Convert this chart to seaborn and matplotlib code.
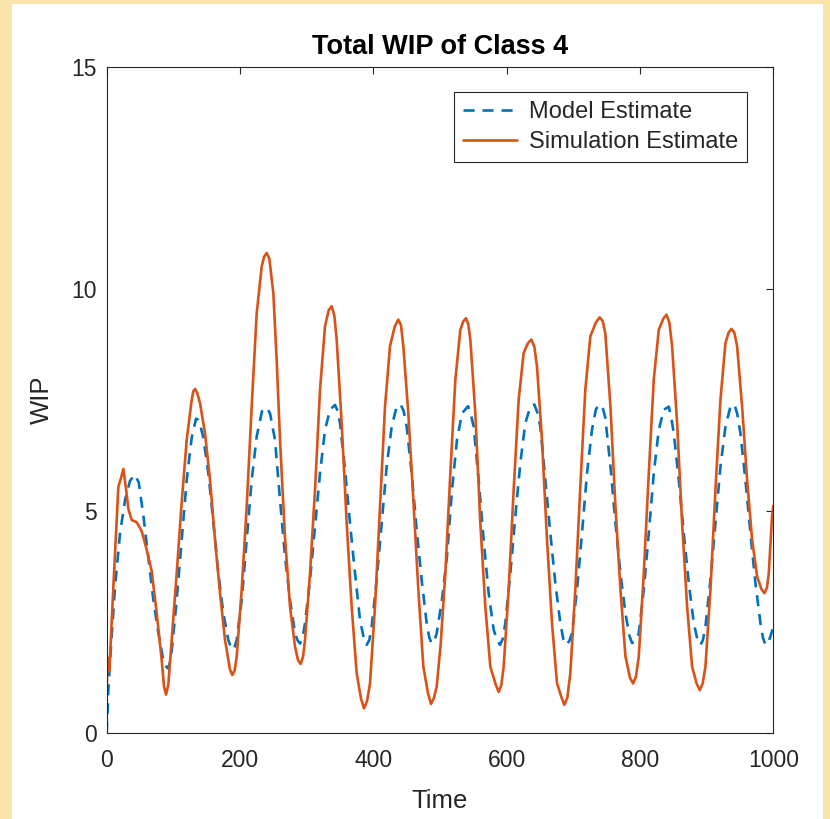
import numpy as np
import pandas as pd
import matplotlib
matplotlib.use("Agg")
import matplotlib.pyplot as plt
from matplotlib.patches import Rectangle
import seaborn as sns

# Model estimate of total WIP (time, WIP)
model_time = [0, 2.5, 7.5, 12.5, 20, 27.5, 35, 42, 48, 55, 62.5, 70, 77.5, 85, 88, 92, 95, 97.5,
              105, 112.5, 120, 127.5, 134, 137.5, 140, 145, 152.5, 160, 167.5, 175, 182.5, 185.5, 189, 192, 195,
              202.5, 210, 217.5, 225, 233, 240, 245, 252.5, 260, 267.5, 275, 282.5, 286, 290, 294, 297.5,
              305, 312.5, 320, 327.5, 335, 342.5, 346.5, 350, 357.5, 365, 372.5, 380, 385.5, 390, 394, 397.5,
              405, 412.5, 420, 427.5, 435, 441, 445.5, 450, 457.5, 465, 472.5, 480, 484, 487.5, 491.5, 495,
              502.5, 510.5, 518, 525.5, 533, 542, 546, 550.5, 558, 565.5, 573, 580.5, 585.5, 590, 594, 598,
              605.5, 613, 620.5, 628, 635.5, 641.5, 646, 650.5, 658, 665.5, 673, 680.5, 685, 689.5, 694, 698,
              705.5, 713, 720.5, 728, 734, 740.5, 744.5, 748, 755.7, 763.2, 770.7, 778.2, 784, 788.2, 793, 798.2,
              805.7, 813.2, 820.7, 828.2, 835.7, 843.2, 847, 850.7, 858.2, 865.7, 873.2, 880.7, 886, 890.7, 894.5, 898.2,
              905.7, 913.2, 920.7, 928.2, 935.7, 941.7, 946, 950.7, 958.2, 965.7, 973.2, 980.7, 984.5, 988.2, 992, 995.7,
              1000]
model_wip = [0, 1.0, 2.2, 3.3, 4.5, 5.25, 5.68, 5.82, 5.65, 4.9, 3.95, 3.0, 2.25, 1.65, 1.52, 1.46, 1.6, 1.85,
             3.0, 4.35, 5.7, 6.65, 7.08, 7.05, 6.95, 6.65, 5.85, 4.75, 3.6, 2.7, 2.1, 1.97, 1.88, 1.95, 2.1,
             3.0, 4.35, 5.7, 6.68, 7.25, 7.33, 7.2, 6.6, 5.25, 3.98, 3.0, 2.25, 2.1, 2.02, 2.15, 2.48,
             3.45, 4.65, 5.85, 6.83, 7.28, 7.39, 7.25, 6.98, 5.93, 4.73, 3.6, 2.55, 2.15, 1.99, 2.1, 2.4,
             3.45, 4.73, 6.0, 6.9, 7.35, 7.4, 7.25, 6.9, 5.85, 4.58, 3.45, 2.48, 2.15, 2.02, 2.08, 2.25,
             2.95, 3.98, 5.48, 6.6, 7.2, 7.36, 7.2, 6.9, 5.7, 4.35, 3.15, 2.33, 2.1, 1.99, 2.12, 2.48,
             3.6, 4.88, 6.08, 6.98, 7.35, 7.4, 7.22, 6.9, 5.7, 4.5, 3.38, 2.48, 2.12, 1.99, 2.08, 2.25,
             3.23, 4.5, 5.85, 6.83, 7.3, 7.4, 7.3, 7.1, 6.0, 4.73, 3.6, 2.7, 2.2, 2.03, 2.08, 2.25,
             3.23, 4.5, 5.85, 6.83, 7.28, 7.35, 7.1, 6.75, 5.7, 4.5, 3.38, 2.48, 2.12, 1.99, 2.1, 2.4,
             3.45, 4.73, 6.0, 6.9, 7.35, 7.4, 7.18, 6.75, 5.7, 4.5, 3.38, 2.48, 2.15, 1.99, 2.03, 2.18,
             2.4]

# Simulation estimate of total WIP (time, WIP)
sim_time = [0, 1.5, 4, 10, 17.5, 21, 25, 29, 32.5, 37.5, 45, 52.5, 60, 67.5, 75, 82.5, 86, 89, 92.5, 97.5,
            105, 112.5, 120, 127.5, 130, 132.5, 136, 140, 147.5, 155, 162.5, 170, 177.5, 185, 188.5, 192, 195,
            202.5, 210, 217.5, 225, 232.5, 236, 240, 244, 250, 255, 260, 267.5, 275, 282.5, 287, 291, 294.5, 297.5,
            305, 312.5, 320, 327.5, 333, 337.5, 341.5, 345, 352.5, 360, 367.5, 375, 381.5, 386, 390.5, 395,
            402.5, 410, 417.5, 425, 432, 437.5, 441.5, 445, 452.5, 460, 467.5, 475, 482, 486.5, 491, 495,
            501, 508, 515.5, 523, 530.5, 535, 539, 542.5, 545.5, 553, 560.5, 568, 575.5, 583.5, 588, 592, 595.5,
            603, 610.5, 618, 625.5, 632, 637, 641.5, 645.5, 653, 660.5, 668, 675.5, 682, 686.5, 691, 695.5,
            703, 710.5, 718, 725.5, 734, 739.5, 744, 748, 755.7, 763.2, 770.7, 778.2, 785, 789.7, 794, 798.2,
            805.7, 813.2, 820.7, 828.2, 835, 839.7, 844, 848.2, 855.7, 863.2, 870.7, 878.2, 885, 889.7, 894, 898.2,
            905.7, 913.2, 920.7, 928.2, 933, 937.2, 941.5, 945.7, 953.2, 960.7, 968.2, 975.7, 982, 986.7, 990.5, 993.2,
            998.2, 1000]
sim_wip = [1.05, 1.7, 1.4, 3.3, 5.55, 5.72, 5.95, 5.5, 5.05, 4.8, 4.75, 4.55, 4.13, 3.65, 2.7, 1.65, 1.05, 0.87, 1.1, 2.1,
           3.6, 5.2, 6.6, 7.5, 7.7, 7.75, 7.65, 7.43, 6.75, 5.7, 4.35, 3.15, 2.1, 1.43, 1.31, 1.42, 1.72,
           3.23, 5.1, 7.35, 9.45, 10.5, 10.72, 10.81, 10.68, 9.9, 8.4, 6.6, 4.4, 2.85, 1.95, 1.65, 1.56, 1.72, 2.1,
           3.6, 5.48, 7.73, 9.16, 9.52, 9.61, 9.4, 8.86, 6.98, 4.73, 2.85, 1.35, 0.78, 0.56, 0.72, 1.12,
           2.85, 5.1, 7.35, 8.71, 9.15, 9.31, 9.18, 8.71, 7.2, 5.25, 3.23, 1.5, 0.9, 0.66, 0.8, 1.05,
           2.0, 3.6, 5.85, 7.95, 9.08, 9.27, 9.34, 9.2, 8.86, 7.2, 4.73, 2.85, 1.5, 1.1, 0.93, 1.08, 1.5,
           3.23, 5.48, 7.5, 8.56, 8.78, 8.86, 8.7, 8.26, 6.6, 4.36, 2.48, 1.13, 0.82, 0.64, 0.8, 1.35,
           3.23, 5.55, 7.73, 8.93, 9.25, 9.36, 9.28, 9.0, 7.35, 5.1, 3.23, 1.73, 1.25, 1.12, 1.28, 1.73,
           3.6, 5.85, 7.96, 9.08, 9.33, 9.42, 9.25, 8.71, 6.98, 4.73, 2.85, 1.5, 1.12, 0.97, 1.12, 1.5,
           3.23, 5.48, 7.5, 8.78, 9.02, 9.1, 9.02, 8.71, 7.35, 5.7, 4.36, 3.53, 3.25, 3.15, 3.28, 3.6,
           4.9, 5.12]

series_labels = ["Model Estimate", "Simulation Estimate"]
x_ticks = [0, 200, 400, 600, 800, 1000]
y_ticks = [0, 5, 10, 15]

sns.set_theme(style="white")
plt.rcParams["font.family"] = ["Liberation Sans", "DejaVu Sans"]

ink = "#262626"
blue = "#0072BD"
orange = "#D95319"

fig = plt.figure(figsize=(8.30, 8.19), dpi=100)
fig.patch.set_facecolor("#FAE4AA")
fig.add_artist(Rectangle((12 / 830, 0), (823 - 12) / 830, (819 - 4) / 819,
                         transform=fig.transFigure, facecolor="white",
                         edgecolor="none", zorder=-5))

ax = fig.add_axes([106.7 / 830, 1 - 733.3 / 819, (773.3 - 106.7) / 830, (733.3 - 66.7) / 819])
ax.set_facecolor("white")

model_df = pd.DataFrame({"Time": model_time, "WIP": model_wip})
sim_df = pd.DataFrame({"Time": sim_time, "WIP": sim_wip})

sns.lineplot(data=model_df, x="Time", y="WIP", ax=ax, color=blue, linewidth=1.9,
             linestyle=(0, (4.2, 3.0)), estimator=None, sort=True,
             label=series_labels[0])
sns.lineplot(data=sim_df, x="Time", y="WIP", ax=ax, color=orange, linewidth=1.9,
             estimator=None, sort=True, label=series_labels[1])

ax.set_xlim(0, 1000)
ax.set_ylim(0, 15)
ax.set_xticks(x_ticks)
ax.set_yticks(y_ticks)
ax.tick_params(axis="both", which="major", direction="in", length=5, width=0.8,
               colors=ink, labelsize=16.5, top=True, right=True,
               labeltop=False, labelright=False)
ax.tick_params(axis="x", pad=11)
ax.tick_params(axis="y", pad=7)
for sp in ax.spines.values():
    sp.set_visible(True)
    sp.set_color(ink)
    sp.set_linewidth(0.8)

ax.set_xlabel("Time", fontsize=18.5, color=ink)
ax.set_ylabel("WIP", fontsize=18.5, color=ink)
ax.xaxis.set_label_coords(0.5, -0.083)
ax.yaxis.set_label_coords(-0.079, 0.5)
ax.set_title("Total WIP of Class 4", fontsize=19.5, fontweight="bold", color="black", pad=9)

leg = ax.legend(loc="upper right", bbox_to_anchor=(0.961, 0.962), fontsize=17,
                frameon=True, fancybox=False, framealpha=1, edgecolor=ink,
                handlelength=2.3, handletextpad=0.5, labelspacing=0.33,
                borderpad=0.38, borderaxespad=0)
leg.get_frame().set_linewidth(0.8)
for t in leg.get_texts():
    t.set_color(ink)

fig.savefig("out.png", dpi=100, facecolor=fig.get_facecolor())
